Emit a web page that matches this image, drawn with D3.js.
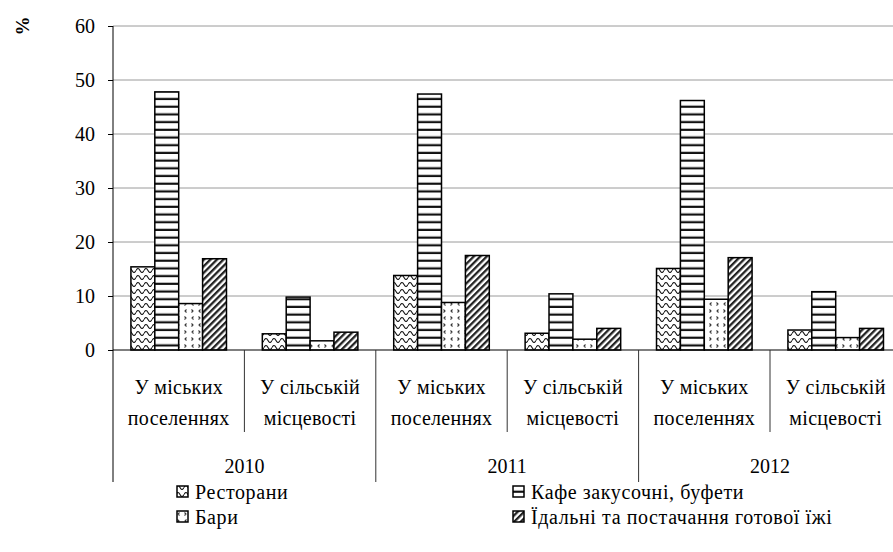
<!DOCTYPE html>
<html><head><meta charset="utf-8">
<script src="https://cdn.jsdelivr.net/npm/d3@7"></script>
</head><body style="margin:0">
<svg id="c" width="893" height="552"></svg>
<script>
const years = ["2010", "2011", "2012"];
const places = [["У міських", "поселеннях"], ["У сільській", "місцевості"]];
const seriesNames = ["Ресторани", "Кафе закусочні, буфети", "Бари", "Їдальні та постачання готової їжі"];
const restaurants = [15.4, 3.0, 13.8, 3.1, 15.1, 3.7];
const cafes = [47.8, 9.8, 47.4, 10.4, 46.2, 10.8];
const bars = [8.6, 1.7, 8.8, 2.0, 9.4, 2.3];
const canteens = [16.9, 3.3, 17.5, 4.0, 17.1, 4.0];
const yTicks = [0, 10, 20, 30, 40, 50, 60];

const svg = d3.select("#c");
const L = 113, R = 901.4, T = 26, B = 350;
const cats = d3.range(6);
const x0 = d3.scaleBand().domain(cats).range([L, R]).padding(0);
const x1 = d3.scaleBand().domain(d3.range(4)).range([0, x0.bandwidth()]).paddingInner(0).paddingOuter(0.75);
const y = d3.scaleLinear().domain([0, 60]).range([B, T]);
const xYear = d3.scaleBand().domain(years).range([L, R]).padding(0);

// text drawn at 24px and scaled to the wanted size
const BASE = 24;
function label(parent, data, xf, yf, size, anchor, ls, weight, rot) {
  const k = size / BASE;
  return parent.append("g").selectAll("text").data(data).join("text")
    .attr("transform", (d, i) => `translate(${xf(d, i)},${yf(d, i)}) scale(${k})${rot ? " rotate(" + rot + ")" : ""}`)
    .style("font-family", '"Liberation Serif"').style("font-size", BASE + "px")
    .style("font-weight", weight || "normal").style("letter-spacing", (ls || 0) / k + "px")
    .attr("text-anchor", anchor || "start");
}

// patterns
const defs = svg.append("defs");
const pw = defs.append("pattern").attr("id", "p0").attr("patternUnits", "userSpaceOnUse").attr("width", 8).attr("height", 7);
pw.append("rect").attr("width", 8).attr("height", 7).attr("fill", "#fff");
pw.append("path").attr("d", "M0,4.5 Q2,0.5 4,4.5 T8,4.5").attr("fill", "none").attr("stroke", "#111").attr("stroke-width", 1.1);
const ph = defs.append("pattern").attr("id", "p1").attr("patternUnits", "userSpaceOnUse").attr("width", 10).attr("height", 7.7);
ph.append("rect").attr("width", 10).attr("height", 7.7).attr("fill", "#fff");
ph.append("rect").attr("y", 5.5).attr("width", 10).attr("height", 2.2).attr("fill", "#111");
const pc = defs.append("pattern").attr("id", "p2").attr("patternUnits", "userSpaceOnUse").attr("width", 14).attr("height", 14);
pc.append("rect").attr("width", 14).attr("height", 14).attr("fill", "#fff");
pc.append("path").attr("d", "M4.5,1.5 L3,3 L4.5,4.5 M9.5,1.5 L11,3 L9.5,4.5 M11.5,8.5 L10,10 L11.5,11.5 M2.5,8.5 L4,10 L2.5,11.5").attr("fill", "none").attr("stroke", "#333").attr("stroke-width", 1.1);
const pd = defs.append("pattern").attr("id", "p3").attr("patternUnits", "userSpaceOnUse").attr("width", 4.6).attr("height", 4.6).attr("patternTransform", "rotate(45)");
pd.append("rect").attr("width", 4.6).attr("height", 4.6).attr("fill", "#fff");
pd.append("rect").attr("width", 2.3).attr("height", 4.6).attr("fill", "#222");

// gridlines
svg.append("g").selectAll("line").data(yTicks.filter(d => d > 0)).join("line")
  .attr("x1", L).attr("x2", 893).attr("y1", d => y(d)).attr("y2", d => y(d))
  .attr("stroke", "#9a9a9a").attr("stroke-width", 1);

// y axis ticks (lines via d3 axis, labels drawn separately)
const ya = svg.append("g").attr("transform", `translate(${L},0)`)
  .call(d3.axisLeft(y).tickValues(yTicks).tickSize(5).tickFormat(""));
ya.select(".domain").remove();
ya.selectAll(".tick line").attr("stroke", "#000");
label(svg, yTicks, () => 95, d => y(d) + 7, 20, "end").text(d => d);
svg.append("line").attr("x1", L).attr("x2", L).attr("y1", T).attr("y2", 482).attr("stroke", "#000");

// bars
const allSeries = [restaurants, cafes, bars, canteens];
allSeries.forEach((vals, s) => {
  svg.append("g").selectAll("rect").data(vals).join("rect")
    .attr("x", (d, i) => x0(i) + x1(s)).attr("width", x1.bandwidth())
    .attr("y", d => y(d)).attr("height", d => B - y(d))
    .attr("fill", `url(#p${s})`).attr("stroke", "#000").attr("stroke-width", 1.5);
});

// x axis line
svg.append("line").attr("x1", L).attr("x2", 893).attr("y1", B).attr("y2", B).attr("stroke", "#000").attr("stroke-width", 1.2);

// separators
svg.append("g").selectAll("line").data(cats.slice(1)).join("line")
  .attr("x1", d => x0(d)).attr("x2", d => x0(d)).attr("y1", B)
  .attr("y2", d => d % 2 === 0 ? 482 : 432)
  .attr("stroke", "#333").attr("stroke-width", 1);

// category labels (two lines each)
const lineY = [394, 425];
[0, 1].forEach(li => {
  label(svg, cats, d => x0(d) + x0.bandwidth() / 2, () => lineY[li], 20, "middle", 0.3)
    .text(d => places[d % 2][li]);
});

// year labels
label(svg, years, d => xYear(d) + xYear.bandwidth() / 2, () => 473, 20, "middle").text(d => d);

// % label
label(svg, ["%"], () => 29, () => 26, 19, "middle", 0, "bold", -90).text(d => d);

// legend
const legPos = [[177, 492], [513, 492], [177, 517], [513, 517]];
svg.append("g").selectAll("rect").data(seriesNames).join("rect")
  .attr("x", (d, i) => legPos[i][0]).attr("y", (d, i) => legPos[i][1] - 6).attr("width", 11).attr("height", 11)
  .attr("fill", (d, i) => `url(#p${i})`).attr("stroke", "#000").attr("stroke-width", 1.5);
label(svg, seriesNames, (d, i) => legPos[i][0] + 18, (d, i) => legPos[i][1] + 7, 20, "start", 0.6).text(d => d);
</script>
</body></html>
